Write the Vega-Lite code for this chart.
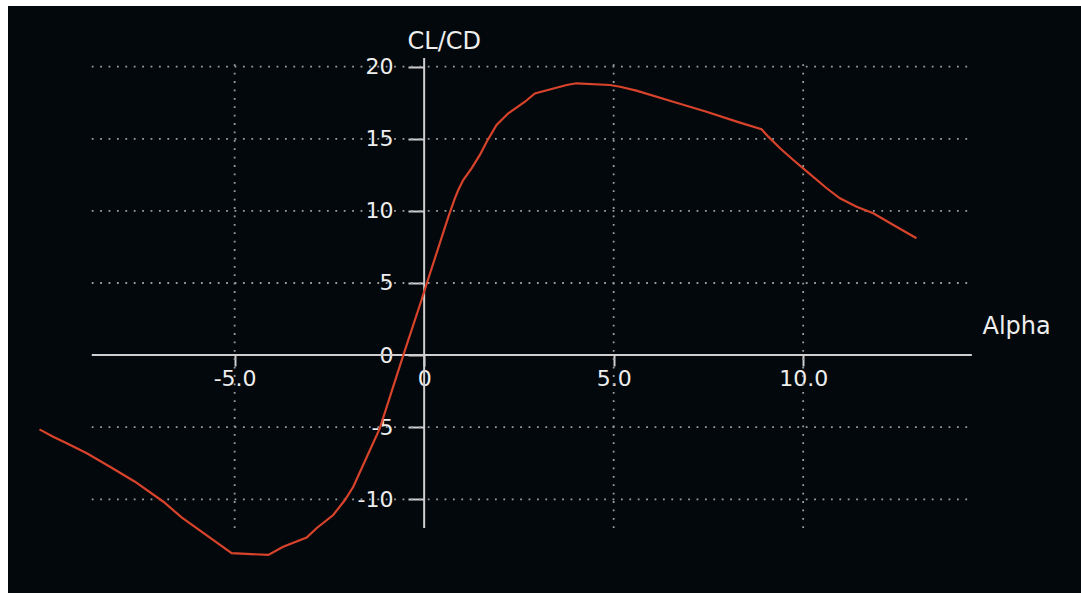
{
  "$schema": "https://vega.github.io/schema/vega-lite/v6.json",
  "width": 1073,
  "height": 587,
  "autosize": {"type": "none"},
  "padding": {"left": 8, "top": 6, "right": 0, "bottom": 0},
  "background": "#ffffff",
  "view": {"fill": "#03080c", "stroke": null},
  "datasets": {
    "polar": [
      {"alpha": -10.15, "clcd": -5.15},
      {"alpha": -9.79, "clcd": -5.66},
      {"alpha": -9.43, "clcd": -6.12},
      {"alpha": -8.9, "clcd": -6.81},
      {"alpha": -8.29, "clcd": -7.74},
      {"alpha": -7.63, "clcd": -8.78},
      {"alpha": -6.88, "clcd": -10.17},
      {"alpha": -6.4, "clcd": -11.25},
      {"alpha": -5.08, "clcd": -13.74},
      {"alpha": -4.11, "clcd": -13.86},
      {"alpha": -3.72, "clcd": -13.29},
      {"alpha": -3.1, "clcd": -12.66},
      {"alpha": -2.84, "clcd": -12.01},
      {"alpha": -2.4, "clcd": -11.09},
      {"alpha": -2.09, "clcd": -10.05},
      {"alpha": -1.87, "clcd": -9.13},
      {"alpha": -1.43, "clcd": -6.58},
      {"alpha": -1.17, "clcd": -5.08},
      {"alpha": -0.55, "clcd": 0.0},
      {"alpha": -0.07, "clcd": 3.82},
      {"alpha": 0.07, "clcd": 4.98},
      {"alpha": 0.64, "clcd": 9.6},
      {"alpha": 0.81, "clcd": 10.87},
      {"alpha": 0.9, "clcd": 11.45},
      {"alpha": 1.03, "clcd": 12.14},
      {"alpha": 1.25, "clcd": 12.95},
      {"alpha": 1.47, "clcd": 13.88},
      {"alpha": 1.65, "clcd": 14.8},
      {"alpha": 1.91, "clcd": 15.96},
      {"alpha": 2.22, "clcd": 16.77},
      {"alpha": 2.66, "clcd": 17.57},
      {"alpha": 2.92, "clcd": 18.15},
      {"alpha": 3.76, "clcd": 18.73},
      {"alpha": 4.02, "clcd": 18.85},
      {"alpha": 4.9, "clcd": 18.73},
      {"alpha": 5.17, "clcd": 18.61},
      {"alpha": 5.6, "clcd": 18.34},
      {"alpha": 6.57, "clcd": 17.57},
      {"alpha": 7.45, "clcd": 16.88},
      {"alpha": 8.33, "clcd": 16.12},
      {"alpha": 8.9, "clcd": 15.66},
      {"alpha": 9.08, "clcd": 15.15},
      {"alpha": 9.39, "clcd": 14.34},
      {"alpha": 9.74, "clcd": 13.53},
      {"alpha": 10.0, "clcd": 12.95},
      {"alpha": 10.62, "clcd": 11.57},
      {"alpha": 10.97, "clcd": 10.87},
      {"alpha": 11.41, "clcd": 10.29},
      {"alpha": 11.85, "clcd": 9.83},
      {"alpha": 12.38, "clcd": 9.02},
      {"alpha": 12.99, "clcd": 8.1}
    ],
    "hgrid": [{"clcd": 20}, {"clcd": 15}, {"clcd": 10}, {"clcd": 5}, {"clcd": -5}, {"clcd": -10}],
    "vgrid": [{"alpha": -5}, {"alpha": 5}, {"alpha": 10}],
    "origin": [{"alpha": 0, "clcd": 0}]
  },
  "layer": [
    {
      "data": {"name": "hgrid"},
      "mark": {"type": "rule", "color": "#9a9ea2", "strokeWidth": 1.8, "strokeDash": [1.8, 6.6]},
      "encoding": {
        "y": {
          "field": "clcd",
          "type": "quantitative",
          "title": "CL/CD",
          "scale": {"domain": [-16.5, 24.21], "nice": false, "zero": false},
          "axis": {
            "orient": "left",
            "offset": -416,
            "values": [-10, -5, 0, 5, 10, 15, 20],
            "labelExpr": "replace(format(datum.value, 'd'), '\u2212', '-')",
            "domain": false,
            "grid": false,
            "ticks": true,
            "tickSize": 16,
            "tickWidth": 2,
            "tickColor": "#cfcfcf",
            "labelColor": "#eeeeee",
            "labelFont": "DejaVu Sans",
            "labelFontSize": 22,
            "labelPadding": 15,
            "labelFlush": false,
            "labelOverlap": false,
            "titleX": -17,
            "titleY": 42,
            "titleAlign": "left",
            "titleBaseline": "alphabetic",
            "titleAngle": 0,
            "titleColor": "#eeeeee",
            "titleFont": "DejaVu Sans",
            "titleFontSize": 24,
            "titleFontWeight": "normal"
          }
        },
        "x": {
          "datum": -8.77,
          "type": "quantitative",
          "title": "Alpha",
          "scale": {"domain": [-10.98, 17.33], "nice": false, "zero": false},
          "axis": {
            "orient": "bottom",
            "offset": -238,
            "values": [-5, 0, 5, 10],
            "labelExpr": "datum.value == 0 ? '0' : replace(format(datum.value, '.1f'), '\u2212', '-')",
            "domain": false,
            "grid": false,
            "ticks": true,
            "tickSize": 11,
            "tickWidth": 2,
            "tickColor": "#cfcfcf",
            "labelColor": "#eeeeee",
            "labelFont": "DejaVu Sans",
            "labelFontSize": 22,
            "labelPadding": 2,
            "labelFlush": false,
            "labelOverlap": false,
            "titleX": 974,
            "titleY": -22,
            "titleAlign": "left",
            "titleBaseline": "alphabetic",
            "titleAngle": 0,
            "titleColor": "#eeeeee",
            "titleFont": "DejaVu Sans",
            "titleFontSize": 24,
            "titleFontWeight": "normal"
          }
        },
        "x2": {"datum": 14.35}
      }
    },
    {
      "data": {"name": "vgrid"},
      "mark": {"type": "rule", "color": "#9a9ea2", "strokeWidth": 1.8, "strokeDash": [1.8, 6.6]},
      "encoding": {
        "x": {"field": "alpha", "type": "quantitative", "title": "Alpha"},
        "y": {"datum": -12.0, "type": "quantitative", "title": "CL/CD"},
        "y2": {"datum": 20.6}
      }
    },
    {
      "data": {"name": "origin"},
      "mark": {"type": "rule", "color": "#cfcfcf", "strokeWidth": 2},
      "encoding": {
        "y": {"field": "clcd", "type": "quantitative", "title": "CL/CD"},
        "x": {"datum": -8.77, "type": "quantitative", "title": "Alpha"},
        "x2": {"datum": 14.45}
      }
    },
    {
      "data": {"name": "origin"},
      "mark": {"type": "rule", "color": "#cfcfcf", "strokeWidth": 2},
      "encoding": {
        "x": {"field": "alpha", "type": "quantitative", "title": "Alpha"},
        "y": {"datum": -12.0, "type": "quantitative", "title": "CL/CD"},
        "y2": {"datum": 20.6}
      }
    },
    {
      "data": {"name": "polar"},
      "mark": {"type": "line", "color": "#d8432b", "strokeWidth": 2.2},
      "encoding": {
        "x": {"field": "alpha", "type": "quantitative", "title": "Alpha"},
        "y": {"field": "clcd", "type": "quantitative", "title": "CL/CD"}
      }
    }
  ]
}
